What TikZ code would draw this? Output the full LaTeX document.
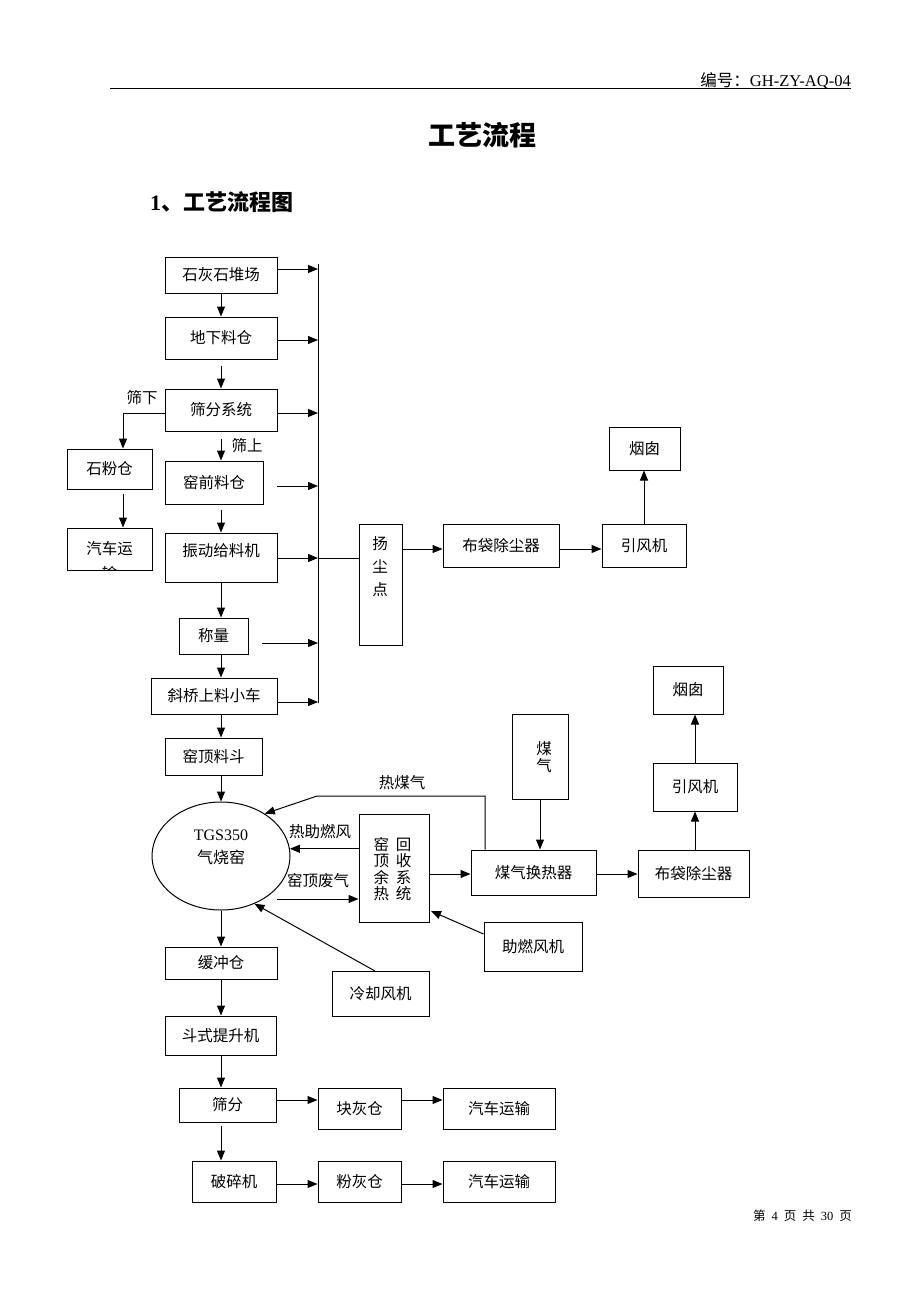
\documentclass[tikz,border=0pt]{standalone}
\usepackage{fontspec}
\setmainfont{Liberation Serif}
\newfontfamily\cjk{Noto Sans CJK SC}
\usetikzlibrary{arrows.meta,calc,shapes.geometric}
\newcommand\fsz[1]{\fontsize{#1}{#1}\selectfont}
\newcommand\fszb[2]{\fontsize{#1}{#2}\selectfont}
\newcommand\mybox[6]{\node[box, minimum width={(#4)-(#2)}, minimum height={(#5)-(#3)}] (#1) at ({((#2)+(#4))/2},{((#3)+(#5))/2}) {#6};}
\begin{document}
\begin{tikzpicture}[x=1pt,y=-1pt,
  box/.style={draw, line width=1pt, inner sep=0pt, font=\cjk\fsz{15.5}, align=center},
  lbl/.style={font=\cjk\fsz{15.5}, inner sep=0pt},
  arr/.style={line width=1pt, -{Triangle[length=10pt,width=8pt]}},
  ln/.style={line width=1pt}]
\useasboundingbox (0,0) rectangle (920,1302);
\fill[white] (0,0) rectangle (920,1302);

% header
\node[anchor=base east, inner sep=0pt, font=\fsz{16.5}] (hdr) at (851,86) {{\cjk 编号：}GH-ZY-AQ-04};
\coordinate (hl1) at (110,88); \coordinate (hl2) at (851,88);
\draw[line width=1pt] (hl1) -- (hl2);
\node[inner sep=0pt, font=\cjk\bfseries\fsz{27}] (title) at (482,135) {工艺流程};
\node[anchor=west, inner sep=0pt, font=\bfseries\fsz{22}] (h1) at (150,202) {1{\cjk 、工艺流程图}};

% left column
\mybox{slh}{165}{257}{277}{293}{石灰石堆场}
\mybox{dxlc}{165}{317}{277}{359}{地下料仓}
\mybox{sfxt}{165}{389}{277}{431}{筛分系统}
\mybox{sfc}{67}{449}{152}{489}{石粉仓}
\mybox{yqlc}{165}{461}{263}{504}{窑前料仓}
\mybox{qcys}{67}{528}{152}{570}{汽车运}
\begin{scope}
\clip (67,528) rectangle (152,569.5);
\node[lbl] (qcysx) at (109.5,574) {输};
\end{scope}
\mybox{zdgl}{165}{533}{277}{582}{}
\node[lbl] (zdglt) at (221,551) {振动给料机};
\mybox{cl}{179}{618}{248}{654}{称量}
\mybox{xq}{151}{678}{277}{714}{斜桥上料小车}
\mybox{ydld}{165}{738}{262}{775}{窑顶料斗}

% dust system
\mybox{ycd}{359}{524}{402}{645}{}
\node[lbl, align=center, font=\cjk\fszb{15.5}{23}] (ycdt) at (380,567) {扬\\尘\\点};
\mybox{bd1}{443}{524}{559}{567}{布袋除尘器}
\mybox{yf1}{602}{524}{686}{567}{引风机}
\mybox{yc1}{609}{427}{680}{470}{烟囱}

% kiln
\node[draw, ellipse, line width=1pt, minimum width=138, minimum height=108, inner sep=0pt] (kiln) at (221,856) {};
\node[inner sep=0pt, align=center, font=\fszb{16}{23}] (kilnt) at (221,847) {TGS350\\{\cjk 气烧窑}};

\mybox{hs}{359}{814}{429}{922}{}
\node[lbl, align=center, font=\cjk\fszb{15.5}{16.5}] (hst) at (392.5,869) {窑\hspace{7pt}回\\顶\hspace{7pt}收\\余\hspace{7pt}系\\热\hspace{7pt}统};
\mybox{mq}{512}{714}{568}{799}{}
\node[lbl, align=center, font=\cjk\fszb{15.5}{16.5}] (mqt) at (544,757) {煤\\气};
\mybox{mqh}{471}{850}{596}{895}{煤气换热器}
\mybox{zrf}{484}{922}{582}{971}{助燃风机}
\mybox{lqf}{332}{971}{429}{1016}{冷却风机}
\mybox{bd2}{638}{850}{749}{897}{布袋除尘器}
\mybox{yf2}{653}{763}{737}{811}{引风机}
\mybox{yc2}{653}{666}{723}{714}{烟囱}

% bottom
\mybox{hcc}{165}{947}{277}{979}{缓冲仓}
\mybox{dstsj}{165}{1016}{276}{1055}{斗式提升机}
\mybox{sf}{179}{1088}{276}{1122}{筛分}
\mybox{khc}{318}{1088}{401}{1129}{块灰仓}
\mybox{qc1}{443}{1088}{555}{1129}{汽车运输}
\mybox{psj}{192}{1161}{276}{1202}{破碎机}
\mybox{fhc}{318}{1161}{401}{1202}{粉灰仓}
\mybox{qc2}{443}{1161}{555}{1202}{汽车运输}

% labels
\node[lbl] (lsx) at (142,398) {筛下};
\node[lbl] (lss) at (247,446) {筛上};
\node[lbl] (lrmq) at (402,783) {热煤气};
\node[lbl] (lrzr) at (320,832) {热助燃风};
\node[lbl] (lydf) at (318,881) {窑顶废气};

% footer
\node[anchor=east, inner sep=0pt, font=\fsz{12.5}] (ftr) at (852,1216) {{\cjk 第}\hspace{6pt}4\hspace{6pt}{\cjk 页}\hspace{6pt}{\cjk 共}\hspace{6pt}30\hspace{6pt}{\cjk 页}};

% bus
\coordinate (bt) at (318,264); \coordinate (bb) at (318,703);
\coordinate (b1) at (318,269); \coordinate (b2) at (318,340);
\coordinate (b3) at (318,413); \coordinate (b4) at (318,486);
\coordinate (b5) at (318,558); \coordinate (b6) at (318,643);
\coordinate (b7) at (318,702);
\coordinate (s4) at (277,486); \coordinate (s6) at (262,643);
\draw[ln] (bt) -- (bb);
\draw[arr] (slh.east |- b1) -- (b1);
\draw[arr] (dxlc.east |- b2) -- (b2);
\draw[arr] (sfxt.east |- b3) -- (b3);
\draw[arr] (s4) -- (b4);
\draw[arr] (zdgl.east |- b5) -- (b5);
\draw[arr] (s6) -- (b6);
\draw[arr] (xq.east |- b7) -- (b7);
\draw[ln] (b5) -- (ycd.west |- b5);
\coordinate (r1) at (0,549);
\draw[arr] (ycd.east |- r1) -- (bd1.west |- r1);
\draw[arr] (bd1.east |- r1) -- (yf1.west |- r1);
\draw[arr] (yf1.north) -- (yf1.north |- yc1.south);

% main vertical chain
\draw[arr] (slh.south) -- (dxlc.north);
\draw[arr] ($(dxlc.south)+(0,6)$) -- (sfxt.north);
\draw[arr] ($(sfxt.south)+(0,7)$) -- (sfxt.south |- yqlc.north);
\draw[arr] ($(zdgl.north |- yqlc.south)+(0,5)$) -- (zdgl.north);
\draw[arr] (zdgl.south) -- (zdgl.south |- cl.north);
\draw[arr] (zdgl.south |- cl.south) -- (zdgl.south |- xq.north);
\draw[arr] (zdgl.south |- xq.south) -- (zdgl.south |- ydld.north);
\draw[arr] (kiln.north |- ydld.south) -- (kiln.north);
\coordinate (sxc) at (123,413);
\draw[arr] (sfxt.west |- sxc) -- (sxc) -- (sxc |- sfc.north);
\draw[arr] ($(sxc |- sfc.south)+(0,4)$) -- (sxc |- qcys.north);

% kiln connections
\draw[arr] (hs.west |- kiln.6) -- (kiln.6);
\coordinate (wq) at (277,899);
\draw[arr] (wq) -- (hs.west |- wq);
\coordinate (hm1) at (485,796); \coordinate (hm2) at (317,796);
\draw[arr] (mqh.north -| hm1) -- (hm1) -- (hm2) -- (kiln.44);
\draw[arr] (mq.south) -- (mq.south |- mqh.north);
\coordinate (r2) at (0,874);
\draw[arr] (hs.east |- r2) -- (mqh.west |- r2);
\draw[arr] (mqh.east |- r2) -- (bd2.west |- r2);
\draw[arr] (yf2.south |- bd2.north) -- (yf2.south);
\draw[arr] (yf2.north) -- (yf2.north |- yc2.south);
\coordinate (z1) at (484,934); \coordinate (z2) at (431,911);
\draw[arr] (zrf.west |- z1) -- (z2);
\coordinate (lq1) at (375,971);
\draw[arr] (lq1) -- (kiln.-55);

% bottom chain
\draw[arr] (kiln.south) -- (hcc.north);
\draw[arr] (kiln.south |- hcc.south) -- (kiln.south |- dstsj.north);
\draw[arr] (kiln.south |- dstsj.south) -- (kiln.south |- sf.north);
\draw[arr] ($(kiln.south |- sf.south)+(0,3)$) -- (kiln.south |- psj.north);
\coordinate (r3) at (0,1100); \coordinate (r4) at (0,1184);
\draw[arr] (sf.east |- r3) -- (khc.west |- r3);
\draw[arr] (khc.east |- r3) -- (qc1.west |- r3);
\draw[arr] (psj.east |- r4) -- (fhc.west |- r4);
\draw[arr] (fhc.east |- r4) -- (qc2.west |- r4);
\end{tikzpicture}
\end{document}
